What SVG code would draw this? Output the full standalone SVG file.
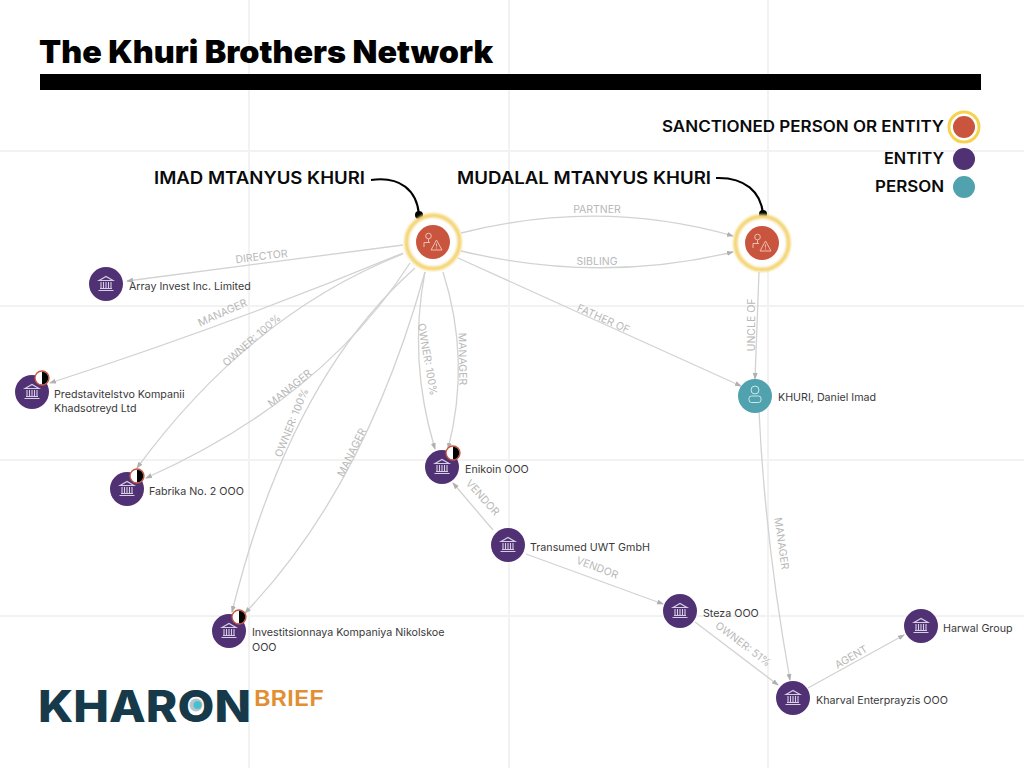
<svg xmlns="http://www.w3.org/2000/svg" width="1024" height="768" viewBox="0 0 1024 768">
<style>
.grid{stroke:#f2f2f2;stroke-width:2;fill:none}
.edge{stroke:#d2d2d2;stroke-width:1.3;fill:none;marker-end:url(#arr)}
.el{font:10.5px Inter,"Liberation Sans",sans-serif;fill:#b8b8b8;text-anchor:middle}
.nl{font:10.7px Inter,"Liberation Sans",sans-serif;fill:#3a3a3a}
.call{font:600 17px Inter,"Liberation Sans",sans-serif;fill:#0a0a0a}
.leg{font:600 15.5px Inter,"Liberation Sans",sans-serif;fill:#0a0a0a;text-anchor:end}
.ent{fill:#503174}.per{fill:#50a2ae}.san{fill:#c9553e}
.halo{fill:#fff;stroke:#f4d673;stroke-width:4.5;filter:url(#soft)}
.ic{stroke:#d9cfe4;stroke-width:1.1;fill:none}
.callout{stroke:#000;stroke-width:2;fill:none}
</style>
<defs>
<filter id="soft" x="-20%" y="-20%" width="140%" height="140%"><feGaussianBlur stdDeviation="0.8"/></filter>
<marker id="arr" markerWidth="7" markerHeight="6" refX="6" refY="2.5" orient="auto" markerUnits="userSpaceOnUse"><path d="M0,0L7,2.5L0,5z" fill="#b0b0b0"/></marker>
<g id="bank"><path class="ic" d="M-7,-3.5L0,-7.5L7,-3.5zM-5,-2V4M-2.5,-2V4M0,-2V4M2.5,-2V4M5,-2V4M-6,4.5H6M-7.5,6.5H7.5"/></g>
<g id="badge"><circle r="7" fill="#fff" stroke="#c9553e" stroke-width="1.3"/><path d="M0,-6.3A6.3,6.3 0 0 1 0,6.3z" fill="#000"/></g>
<g id="warn"><circle cx="-3.5" cy="-6" r="2.8" fill="none" stroke="#eebfb3" stroke-width="1"/><path d="M-8,5V0.5H-2M-3.5,-3V0.5M-1,8L4.5,-2L10,8zM4.5,1.5V4.5M4.5,5.5V6.5" fill="none" stroke="#eebfb3" stroke-width="1"/></g>
</defs>
<rect width="1024" height="768" fill="#fff"/>
<g id="background-grid">
<path class="grid" d="M249,0V768M509,0V768M768,0V768M0,151H1024M0,306H1024M0,460H1024M0,616H1024"/>
</g>
<g id="title">
<text x="39" y="63" textLength="454" lengthAdjust="spacingAndGlyphs" style="font:900 31px Inter,'Liberation Sans',sans-serif" fill="#000">The Khuri Brothers Network</text>
<rect x="40" y="74" width="941" height="16" fill="#000"/>
</g>
<g id="connectors">
<path class="edge" d="M403,245Q270,262 127,281"/>
<path class="edge" d="M403,253Q230,325 50,383"/>
<path class="edge" d="M403,254Q250,314 137,468"/>
<path class="edge" d="M410,263Q322,400 146,478"/>
<path class="edge" d="M415,268Q289,380 232,612"/>
<path class="edge" d="M425,272Q365,488 245,613"/>
<path class="edge" d="M425,272Q408,360 435,449"/>
<path class="edge" d="M443,272Q471,360 448,449"/>
<path class="edge" d="M461,233Q600,198 733,236"/>
<path class="edge" d="M461,251Q600,284 733,252"/>
<path class="edge" d="M458,258L741,386"/>
<path class="edge" d="M759,272L755,379"/>
<path class="edge" d="M759,411Q765,540 790,680"/>
<path class="edge" d="M493,530L453,483"/>
<path class="edge" d="M526,554L663,604"/>
<path class="edge" d="M695,622L778,685"/>
<path class="edge" d="M808,688L904,635"/>
<text class="el" transform="translate(262,260) rotate(-7)">DIRECTOR</text>
<text class="el" transform="translate(224,316) rotate(-24)">MANAGER</text>
<text class="el" transform="translate(254,343) rotate(-41)">OWNER: 100%</text>
<text class="el" transform="translate(292,391) rotate(-39)">MANAGER</text>
<text class="el" transform="translate(295,424) rotate(-68)">OWNER: 100%</text>
<text class="el" transform="translate(355,454) rotate(-64)">MANAGER</text>
<text class="el" transform="translate(424,360) rotate(80)">OWNER: 100%</text>
<text class="el" transform="translate(459,359) rotate(89)">MANAGER</text>
<text class="el" x="597" y="213">PARTNER</text>
<text class="el" x="597" y="265">SIBLING</text>
<text class="el" transform="translate(602,322) rotate(24)">FATHER OF</text>
<text class="el" transform="translate(755,325) rotate(-90)">UNCLE OF</text>
<text class="el" transform="translate(778,544) rotate(82)">MANAGER</text>
<text class="el" transform="translate(480,500) rotate(48)">VENDOR</text>
<text class="el" transform="translate(596,571) rotate(21)">VENDOR</text>
<text class="el" transform="translate(741,647) rotate(37)">OWNER: 51%</text>
<text class="el" transform="translate(853,660) rotate(-30)">AGENT</text>
</g>
<g id="callouts">
<path class="callout" d="M371,180C400,176 417,190 419,215"/><circle cx="419" cy="215" r="4"/>
<path class="callout" d="M716,178C745,177 761,192 763,214"/><circle cx="763" cy="214" r="4"/>
<text class="call" x="154" y="184" textLength="211" lengthAdjust="spacingAndGlyphs">IMAD MTANYUS KHURI</text>
<text class="call" x="457" y="184" textLength="254" lengthAdjust="spacingAndGlyphs">MUDALAL MTANYUS KHURI</text>
</g>
<g id="node-imad"><circle class="halo" cx="433" cy="242" r="26.5"/><circle class="san" cx="433" cy="242" r="17"/><use href="#warn" x="432" y="242"/></g>
<g id="node-mudalal"><circle class="halo" cx="762" cy="243" r="26.5"/><circle class="san" cx="762" cy="243" r="17"/><use href="#warn" x="761" y="243"/></g>
<g id="node-array"><circle class="ent" cx="106" cy="284" r="17"/><use href="#bank" x="106" y="284"/><text class="nl" x="129" y="290">Array Invest Inc. Limited</text></g>
<g id="node-predstavitelstvo"><circle class="ent" cx="32" cy="392" r="17"/><use href="#bank" x="32" y="392"/><use href="#badge" x="42" y="378"/><text class="nl" x="54" y="398">Predstavitelstvo Kompanii</text><text class="nl" x="54" y="412">Khadsotreyd Ltd</text></g>
<g id="node-fabrika"><circle class="ent" cx="127" cy="489" r="17"/><use href="#bank" x="127" y="489"/><use href="#badge" x="137" y="476"/><text class="nl" x="149" y="495">Fabrika No. 2 OOO</text></g>
<g id="node-enikoin"><circle class="ent" cx="442" cy="467" r="17"/><use href="#bank" x="442" y="467"/><use href="#badge" x="453" y="453"/><text class="nl" x="465" y="473">Enikoin OOO</text></g>
<g id="node-transumed"><circle class="ent" cx="508" cy="545" r="17"/><use href="#bank" x="508" y="545"/><text class="nl" x="530" y="551">Transumed UWT GmbH</text></g>
<g id="node-investitsionnaya"><circle class="ent" cx="229" cy="631" r="17"/><use href="#bank" x="229" y="631"/><use href="#badge" x="239" y="617"/><text class="nl" x="252" y="636">Investitsionnaya Kompaniya Nikolskoe</text><text class="nl" x="252" y="651">OOO</text></g>
<g id="node-daniel"><circle class="per" cx="755" cy="396" r="17"/><circle cx="755" cy="390" r="4" fill="none" stroke="#cfe6ea" stroke-width="1"/><rect x="749" y="396" width="12" height="6.5" rx="2.5" fill="none" stroke="#cfe6ea" stroke-width="1"/><text class="nl" x="778" y="401">KHURI, Daniel Imad</text></g>
<g id="node-steza"><circle class="ent" cx="680" cy="611" r="17"/><use href="#bank" x="680" y="611"/><text class="nl" x="703" y="617">Steza OOO</text></g>
<g id="node-kharval"><circle class="ent" cx="793" cy="698" r="17"/><use href="#bank" x="793" y="698"/><text class="nl" x="816" y="704">Kharval Enterprayzis OOO</text></g>
<g id="node-harwal"><circle class="ent" cx="921" cy="626" r="17"/><use href="#bank" x="921" y="626"/><text class="nl" x="943" y="632">Harwal Group</text></g>
<g id="legend">
<text class="leg" x="944" y="132" textLength="282" lengthAdjust="spacingAndGlyphs">SANCTIONED PERSON OR ENTITY</text><circle cx="964" cy="127" r="15" fill="#fff" stroke="#f6d34f" stroke-width="3"/><circle class="san" cx="964" cy="127" r="11"/>
<text class="leg" x="944" y="164" textLength="60" lengthAdjust="spacingAndGlyphs">ENTITY</text><circle class="ent" cx="964" cy="159" r="11"/>
<text class="leg" x="944" y="192" textLength="69" lengthAdjust="spacingAndGlyphs">PERSON</text><circle class="per" cx="964" cy="187" r="11"/>
</g>
<g id="logo">
<text x="38" y="722" style="font:800 44px Inter,'Liberation Sans',sans-serif" fill="#173a4a" textLength="213" lengthAdjust="spacingAndGlyphs">KHARON</text>
<circle cx="196" cy="705" r="6.5" fill="#b9c4c8"/><circle cx="197.5" cy="705" r="4" fill="#45c0d0"/>
<text x="254" y="706" style="font:600 22px Inter,'Liberation Sans',sans-serif" fill="#e28f33" textLength="70" lengthAdjust="spacingAndGlyphs">BRIEF</text>
</g>
</svg>
